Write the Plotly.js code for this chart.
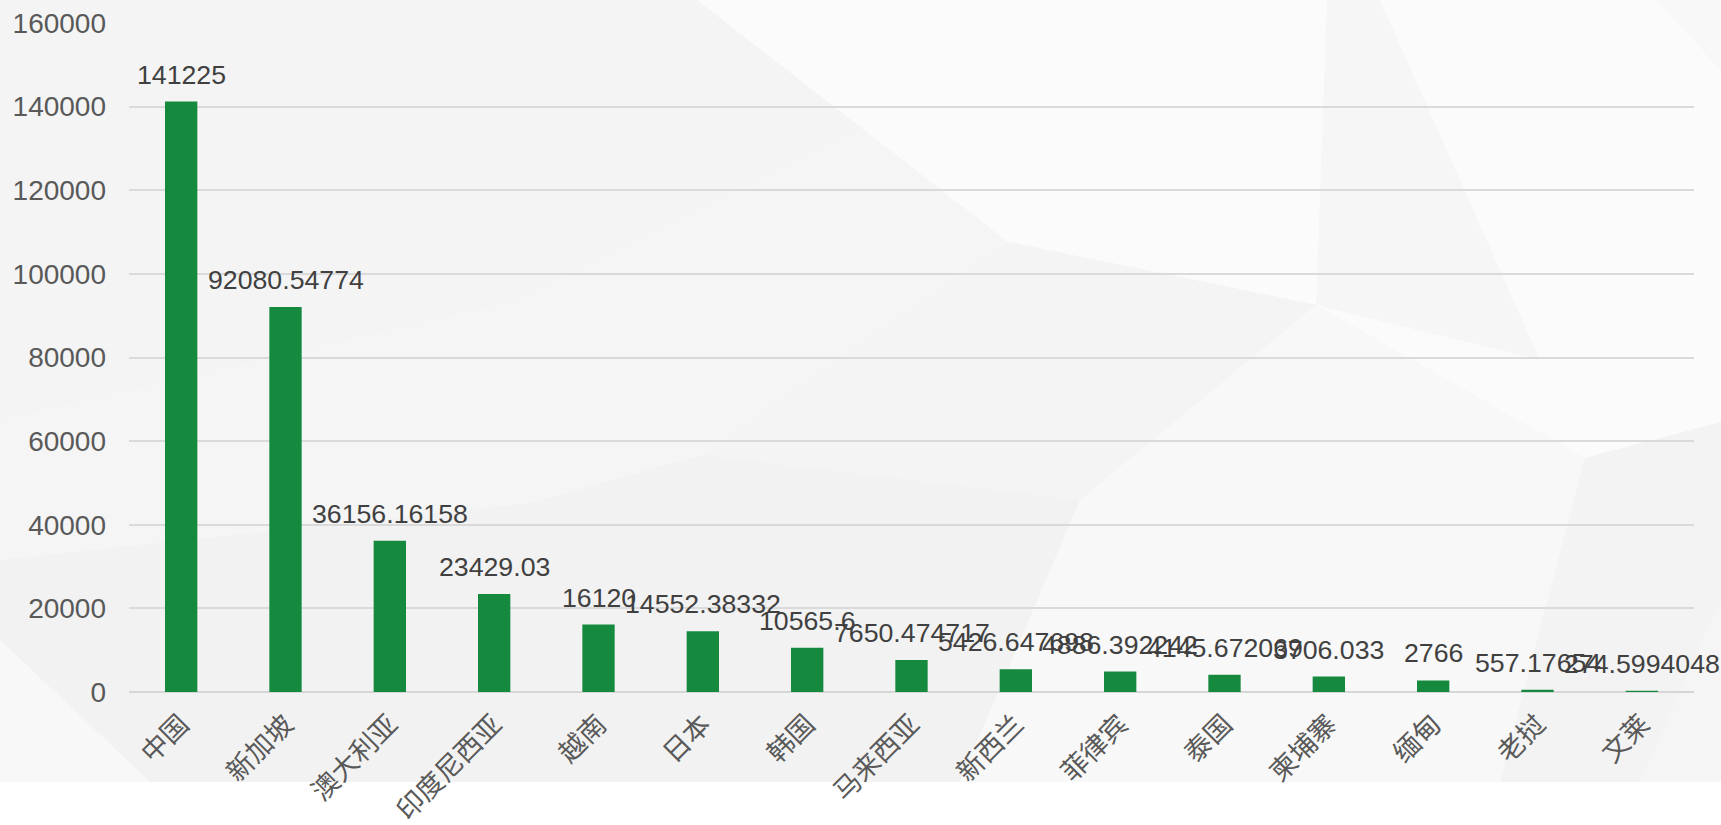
<!DOCTYPE html>
<html>
<head>
<meta charset="utf-8">
<script src="https://cdn.plot.ly/plotly-3.0.1.min.js"></script>
<style>
  html, body { margin: 0; padding: 0; background: #ffffff; }
  #chart { width: 1721px; height: 825px; }
</style>
</head>
<body>
<div id="chart"></div>
<script>
// ---- Data ----
const categories = ['中国','新加坡','澳大利亚','印度尼西亚','越南','日本','韩国','马来西亚','新西兰','菲律宾','泰国','柬埔寨','缅甸','老挝','文莱'];
const values = [141225, 92080.54774, 36156.16158, 23429.03, 16120, 14552.38332, 10565.6, 7650.474717, 5426.647698, 4886.392242, 4145.672069, 3706.033, 2766, 557.17654, 274.5994048];
const valueLabels = ['141225','92080.54774','36156.16158','23429.03','16120','14552.38332','10565.6','7650.474717','5426.647698','4886.392242','4145.672069','3706.033','2766','557.17654','274.5994048'];
const yTickValues = [0, 20000, 40000, 60000, 80000, 100000, 120000, 140000, 160000];

// ---- Layout geometry (pixels) ----
const W = 1721, H = 825;
const M = {l: 129, r: 27, t: 23, b: 133};
const plotW = W - M.l - M.r, plotH = H - M.t - M.b;
const fx = x => (x - M.l) / plotW;
const fy = y => (H - M.b - y) / plotH;
function poly(pts, color) {
  const d = pts.map((p, i) => (i ? 'L' : 'M') + fx(p[0]).toFixed(5) + ',' + fy(p[1]).toFixed(5)).join(' ') + ' Z';
  return {type: 'path', xref: 'paper', yref: 'paper', path: d, fillcolor: color, line: {width: 0}, layer: 'below'};
}

// decorative low-poly background
const shapes = [
  poly([[0,0],[1721,0],[1721,782],[0,782]], '#f5f5f5'),
  poly([[0,0],[697,0],[860,127],[520,300],[0,420]], '#f4f4f4'),
  poly([[697,0],[1008,242],[1316,305],[1585,458],[1721,422],[1721,0]], '#fbfbfb'),
  poly([[1327,0],[1380,0],[1540,360],[1316,305]], '#f6f6f6'),
  poly([[1656,0],[1721,0],[1721,70]], '#f8f8f8'),
  poly([[0,560],[530,503],[702,455],[1008,242],[1316,305],[1080,500],[960,782],[150,782],[0,640]], '#f2f2f2'),
  poly([[702,455],[1008,242],[1316,305],[1080,500]], '#f4f4f4'),
  poly([[1316,305],[1585,458],[1500,782],[960,782],[1080,500]], '#f8f8f8'),
  poly([[1585,458],[1721,422],[1721,600],[1640,782],[1500,782]], '#f3f3f3'),
  poly([[0,640],[150,782],[0,782]], '#f8f8f8')
];

const annotations = categories.map((c, i) => ({
  x: c, y: values[i], xref: 'x', yref: 'y',
  text: valueLabels[i], showarrow: false,
  yanchor: 'bottom', xanchor: 'center', yshift: 10,
  font: {family: 'Liberation Sans, Arial, sans-serif', size: 26.7, color: '#404040'}
}));

const trace = {
  type: 'bar',
  x: categories,
  y: values,
  width: 0.31,
  marker: {color: '#158a3f', line: {width: 0}},
  hoverinfo: 'x+y'
};

const layout = {
  width: W, height: H,
  margin: M,
  paper_bgcolor: '#ffffff',
  plot_bgcolor: 'rgba(0,0,0,0)',
  showlegend: false,
  xaxis: {
    type: 'category',
    range: [-0.5, categories.length - 0.5],
    autorange: false,
    tickangle: -45,
    tickfont: {family: 'Noto Sans CJK SC, sans-serif', size: 27, color: '#595959'},
    showgrid: false, showline: false, ticks: '',
    ticklabelstandoff: 10
  },
  yaxis: {
    range: [0, 160000],
    autorange: false,
    tickvals: yTickValues,
    ticktext: yTickValues.map(String),
    tickfont: {family: 'Liberation Sans, Arial, sans-serif', size: 28, color: '#595959'},
    gridcolor: '#dadada', gridwidth: 2,
    zeroline: true, zerolinecolor: '#d6d6d6', zerolinewidth: 2,
    showline: false, ticks: '',
    ticklabelstandoff: 22
  },
  shapes: shapes,
  annotations: annotations
};

Plotly.newPlot('chart', [trace], layout, {displayModeBar: false, staticPlot: true});
</script>
</body>
</html>
